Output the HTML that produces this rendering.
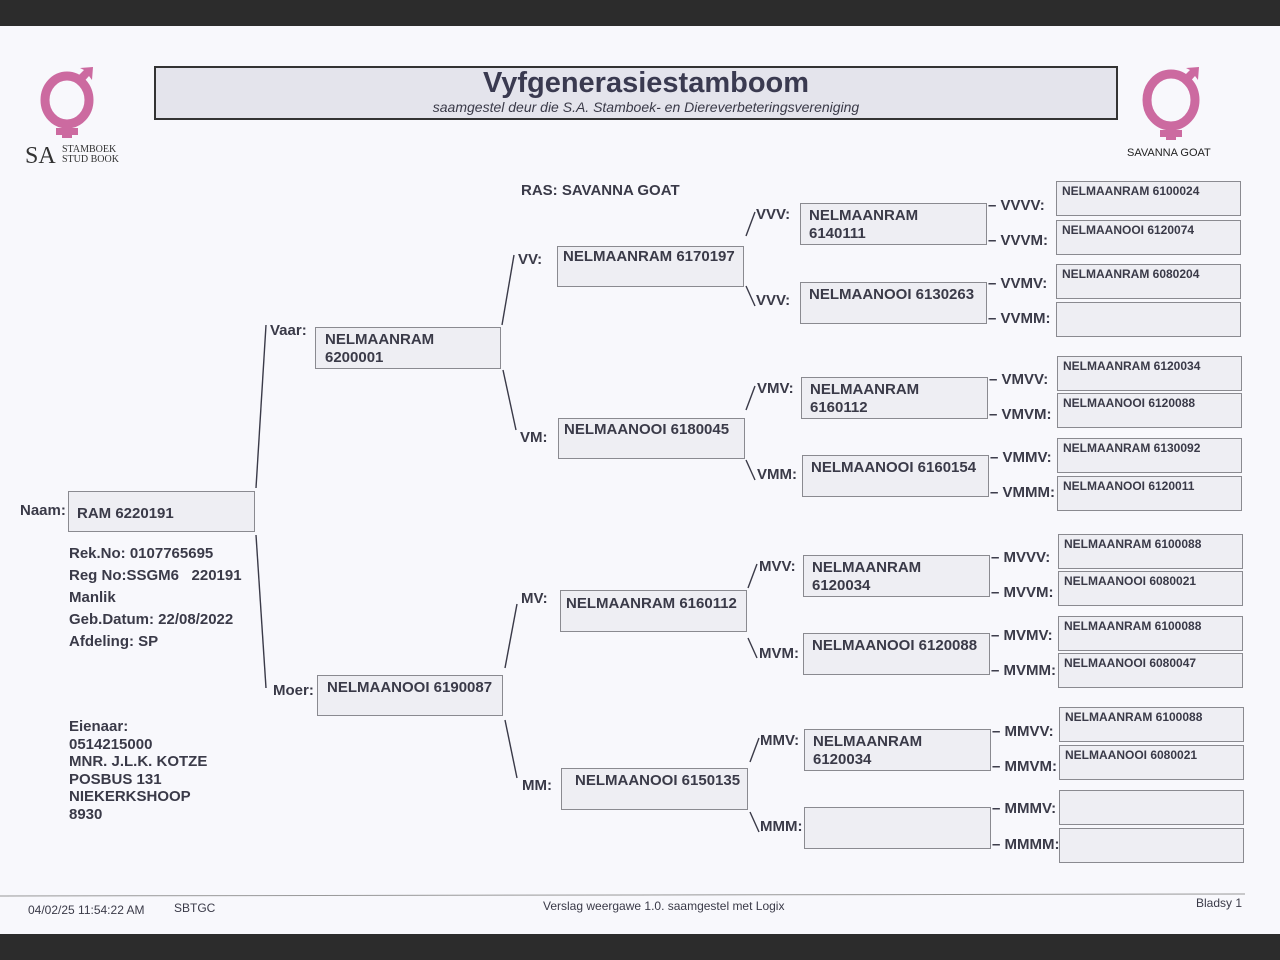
<!DOCTYPE html>
<html><head><meta charset="utf-8"><style>
body{margin:0;width:1280px;height:960px;background:#2c2c2c;position:relative;overflow:hidden;font-family:"Liberation Sans",Arial,sans-serif;color:#3a3a48}
#pg{position:absolute;left:0;top:26px;width:1280px;height:908px;background:#f8f8fc}
.b{position:absolute;background:#eeeef3;border:1px solid #8a8a90;box-sizing:border-box;font-weight:bold;font-size:15px;line-height:18px;padding:6px 0 0 8px}
.s{font-size:12px;line-height:14px;padding:3px 0 0 5px}
.t{position:absolute;font-weight:bold;font-size:15px;white-space:nowrap}
.f{position:absolute;font-size:12px;white-space:nowrap}
svg{position:absolute;left:0;top:0}
</style></head><body>
<div id="pg"></div>
<svg width="1280" height="960">
<g stroke="#3a3a48" stroke-width="1.4" fill="none">
<line x1="256" y1="488" x2="266" y2="325"/><line x1="256" y1="535" x2="266" y2="688"/>
<line x1="502" y1="325" x2="514" y2="255"/><line x1="503" y1="370" x2="516" y2="430"/>
<line x1="505" y1="668" x2="517" y2="604"/><line x1="505" y1="720" x2="517" y2="778"/>
<line x1="755" y1="212" x2="746" y2="236"/><line x1="746" y1="286" x2="755" y2="306"/>
<line x1="755" y1="386" x2="746" y2="410"/><line x1="746" y1="460" x2="755" y2="480"/>
<line x1="757" y1="564" x2="748" y2="588"/><line x1="748" y1="638" x2="757" y2="658"/>
<line x1="759" y1="738" x2="750" y2="762"/><line x1="750" y1="812" x2="759" y2="832"/>
</g>
<line x1="0" y1="896" x2="1245" y2="894" stroke="#999" stroke-width="1"/>
<g fill="none" stroke="#cc6aa0" stroke-width="9"><ellipse cx="67" cy="100" rx="22" ry="24"/><ellipse cx="1171" cy="100" rx="24" ry="26"/></g>
<g fill="#cc6aa0"><rect x="62" y="120" width="10" height="18"/><rect x="56" y="128" width="22" height="7"/><polygon points="74,80 84,70 80,68 93,67 92,80 89,76 80,86"/>
<rect x="1166" y="122" width="10" height="18"/><rect x="1160" y="130" width="22" height="7"/><polygon points="1180,80 1190,70 1186,68 1199,67 1198,80 1195,76 1186,86"/></g>
</svg>
<div style="position:absolute;left:25px;top:143px;font-family:'Liberation Serif',serif;font-size:24px;color:#333">SA</div>
<div style="position:absolute;left:62px;top:145px;font-family:'Liberation Serif',serif;font-size:10px;line-height:10px;color:#333">STAMBOEK<br>STUD BOOK</div>
<div style="position:absolute;left:1127px;top:147px;font-size:11px;color:#222">SAVANNA GOAT</div>
<div style="position:absolute;left:154px;top:66px;width:964px;height:54px;border:2px solid #333;background:#e4e4ec;box-sizing:border-box;text-align:center;padding-left:20px">
<div style="font-weight:bold;font-size:29px;line-height:30px;color:#3a3a50">Vyfgenerasiestamboom</div>
<div style="font-style:italic;font-size:14px;line-height:18px;color:#3a3a48">saamgestel deur die S.A. Stamboek- en Diereverbeteringsvereniging</div></div>
<div class="t" style="left:521px;top:182px">RAS: SAVANNA GOAT</div>
<div class="t" style="left:20px;top:502px">Naam:</div>
<div class="b" style="left:68px;top:491px;width:187px;height:41px;padding-top:13px">RAM 6220191</div>
<div class="t" style="left:69px;top:543px;line-height:22px">Rek.No: 0107765695<br>Reg No:SSGM6&nbsp;&nbsp; 220191<br>Manlik<br>Geb.Datum: 22/08/2022<br>Afdeling: SP</div>
<div class="t" style="left:69px;top:718px;line-height:17.5px">Eienaar:<br>0514215000<br>MNR. J.L.K. KOTZE<br>POSBUS 131<br>NIEKERKSHOOP<br>8930</div>
<div class="t" style="left:270px;top:322px">Vaar:</div>
<div class="b" style="left:315px;top:327px;width:186px;height:42px;padding-left:9px;padding-top:3px">NELMAANRAM<br>6200001</div>
<div class="t" style="left:273px;top:682px">Moer:</div>
<div class="b" style="left:317px;top:675px;width:186px;height:41px;padding-left:9px;padding-top:3px">NELMAANOOI 6190087</div>
<div class="t" style="left:518px;top:251px">VV:</div>
<div class="b" style="left:557px;top:246px;width:187px;height:41px;padding-left:5px;padding-top:1px">NELMAANRAM 6170197</div>
<div class="t" style="left:520px;top:429px">VM:</div>
<div class="b" style="left:558px;top:418px;width:187px;height:41px;padding-left:5px;padding-top:2px">NELMAANOOI 6180045</div>
<div class="t" style="left:521px;top:590px">MV:</div>
<div class="b" style="left:560px;top:590px;width:187px;height:42px;padding-left:5px;padding-top:4px">NELMAANRAM 6160112</div>
<div class="t" style="left:522px;top:777px">MM:</div>
<div class="b" style="left:561px;top:768px;width:187px;height:42px;padding-left:13px;padding-top:3px">NELMAANOOI 6150135</div>
<div class="t" style="left:756px;top:206px">VVV:</div><div class="t" style="left:756px;top:292px">VVV:</div>
<div class="b" style="left:800px;top:203px;width:187px;height:42px;padding-top:3px">NELMAANRAM<br>6140111</div>
<div class="b" style="left:800px;top:282px;width:187px;height:42px;padding-top:3px">NELMAANOOI 6130263</div>
<div class="t" style="left:757px;top:380px">VMV:</div><div class="t" style="left:757px;top:466px">VMM:</div>
<div class="b" style="left:801px;top:377px;width:187px;height:42px;padding-top:3px">NELMAANRAM<br>6160112</div>
<div class="b" style="left:802px;top:455px;width:187px;height:42px;padding-top:3px">NELMAANOOI 6160154</div>
<div class="t" style="left:759px;top:558px">MVV:</div><div class="t" style="left:759px;top:645px">MVM:</div>
<div class="b" style="left:803px;top:555px;width:187px;height:42px;padding-top:3px">NELMAANRAM<br>6120034</div>
<div class="b" style="left:803px;top:633px;width:187px;height:42px;padding-top:3px">NELMAANOOI 6120088</div>
<div class="t" style="left:760px;top:732px">MMV:</div><div class="t" style="left:760px;top:818px">MMM:</div>
<div class="b" style="left:804px;top:729px;width:187px;height:42px;padding-top:3px">NELMAANRAM<br>6120034</div>
<div class="b" style="left:804px;top:807px;width:187px;height:42px"></div>
<div class="t" style="left:988px;top:197px">– VVVV:</div><div class="t" style="left:988px;top:232px">– VVVM:</div>
<div class="t" style="left:988px;top:275px">– VVMV:</div><div class="t" style="left:988px;top:310px">– VVMM:</div>
<div class="t" style="left:989px;top:371px">– VMVV:</div><div class="t" style="left:989px;top:406px">– VMVM:</div>
<div class="t" style="left:990px;top:449px">– VMMV:</div><div class="t" style="left:990px;top:484px">– VMMM:</div>
<div class="t" style="left:991px;top:549px">– MVVV:</div><div class="t" style="left:991px;top:584px">– MVVM:</div>
<div class="t" style="left:991px;top:627px">– MVMV:</div><div class="t" style="left:991px;top:662px">– MVMM:</div>
<div class="t" style="left:992px;top:723px">– MMVV:</div><div class="t" style="left:992px;top:758px">– MMVM:</div>
<div class="t" style="left:992px;top:800px">– MMMV:</div><div class="t" style="left:992px;top:836px">– MMMM:</div>
<div class="b s" style="left:1056px;top:181px;width:185px;height:35px;padding-top:2px">NELMAANRAM 6100024</div>
<div class="b s" style="left:1056px;top:220px;width:185px;height:35px;padding-top:2px">NELMAANOOI 6120074</div>
<div class="b s" style="left:1056px;top:264px;width:185px;height:35px;padding-top:2px">NELMAANRAM 6080204</div>
<div class="b s" style="left:1056px;top:302px;width:185px;height:35px"></div>
<div class="b s" style="left:1057px;top:356px;width:185px;height:35px;padding-top:2px">NELMAANRAM 6120034</div>
<div class="b s" style="left:1057px;top:393px;width:185px;height:35px;padding-top:2px">NELMAANOOI 6120088</div>
<div class="b s" style="left:1057px;top:438px;width:185px;height:35px;padding-top:2px">NELMAANRAM 6130092</div>
<div class="b s" style="left:1057px;top:476px;width:185px;height:35px;padding-top:2px">NELMAANOOI 6120011</div>
<div class="b s" style="left:1058px;top:534px;width:185px;height:35px;padding-top:2px">NELMAANRAM 6100088</div>
<div class="b s" style="left:1058px;top:571px;width:185px;height:35px;padding-top:2px">NELMAANOOI 6080021</div>
<div class="b s" style="left:1058px;top:616px;width:185px;height:35px;padding-top:2px">NELMAANRAM 6100088</div>
<div class="b s" style="left:1058px;top:653px;width:185px;height:35px;padding-top:2px">NELMAANOOI 6080047</div>
<div class="b s" style="left:1059px;top:707px;width:185px;height:35px;padding-top:2px">NELMAANRAM 6100088</div>
<div class="b s" style="left:1059px;top:745px;width:185px;height:35px;padding-top:2px">NELMAANOOI 6080021</div>
<div class="b s" style="left:1059px;top:790px;width:185px;height:35px"></div>
<div class="b s" style="left:1059px;top:828px;width:185px;height:35px"></div>
<div class="f" style="left:28px;top:903px">04/02/25 11:54:22 AM</div>
<div class="f" style="left:174px;top:901px">SBTGC</div>
<div class="f" style="left:543px;top:899px">Verslag weergawe 1.0. saamgestel met Logix</div>
<div class="f" style="left:1196px;top:896px">Bladsy 1</div>
</body></html>
